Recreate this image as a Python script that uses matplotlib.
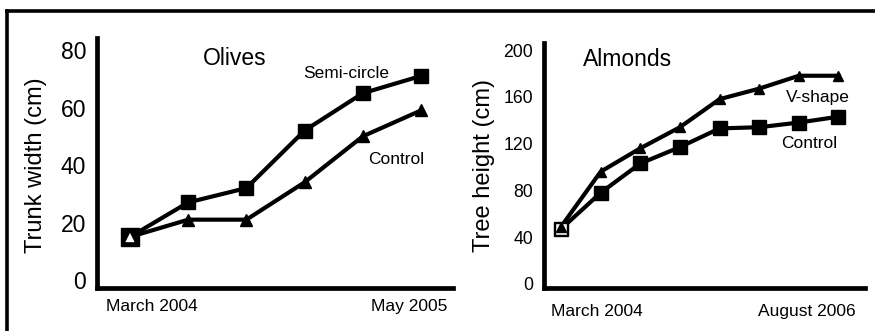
#!/usr/bin/env python3
"""Olive trunk width and almond tree height under two training systems."""

import matplotlib

matplotlib.use("Agg")

import matplotlib.pyplot as plt
from matplotlib.lines import Line2D
from matplotlib.transforms import blended_transform_factory

plt.rcParams["font.family"] = ["Liberation Sans", "DejaVu Sans"]

# Olives: six measurement dates, March 2004 .. May 2005
olive_dates = [0, 1, 2, 3, 4, 5]
olive_semicircle = [15, 27, 32, 52, 65, 71]
olive_control = [15, 21, 21, 34, 50, 59]
olive_yticks = [0, 20, 40, 60, 80]

# Almonds: eight measurement dates, March 2004 .. August 2006
almond_dates = [0, 1, 2, 3, 4, 5, 6, 7]
almond_vshape = [49, 96, 116, 134, 158, 167, 178, 178]
almond_control = [47, 78, 103, 117, 133, 134, 138, 143]
almond_yticks = [0, 40, 80, 120, 160, 200]

W, H = 875, 331
LW = 3.0
AXIS_LW = 3.4


def px_axes(fig, left, right, top, bottom):
    return fig.add_axes([left / W, (H - bottom) / H, (right - left) / W, (bottom - top) / H])


def style_axes(ax, yticks, tick_size, pad):
    for side in ("top", "right"):
        ax.spines[side].set_visible(False)
    for side in ("left", "bottom"):
        ax.spines[side].set_linewidth(AXIS_LW)
        ax.spines[side].set_capstyle("projecting")
    ax.set_xticks([])
    ax.set_yticks(yticks)
    ax.tick_params(axis="y", length=0, pad=pad, labelsize=tick_size)
    ax.patch.set_visible(False)


fig = plt.figure(figsize=(W / 100, H / 100), dpi=100)

# outer frame: top and left rules only
fig.add_artist(Line2D([6.5 / W, 1.0], [1 - 11 / H, 1 - 11 / H], color="black", lw=2.6,
                      transform=fig.transFigure, solid_capstyle="projecting"))
fig.add_artist(Line2D([6.5 / W, 6.5 / W], [1 - 11 / H, 0.0], color="black", lw=2.6,
                      transform=fig.transFigure, solid_capstyle="projecting"))

# --- Olives ---
ax = px_axes(fig, 96.5, 453, 38, 287.5)
style_axes(ax, olive_yticks, 16.5, 7.5)
ax.set_xlim(-0.576, 5.55)
ax.set_ylim(-2.6, 84.2)
ax.plot(olive_dates, olive_semicircle, color="black", lw=LW, marker="s", ms=9.5,
        clip_on=False, zorder=3)
ax.plot(olive_dates[1:], olive_control[1:], color="black", lw=LW, marker="^", ms=8.5,
        clip_on=False, zorder=3)
ax.plot(olive_dates[:2], olive_control[:2], color="black", lw=LW, zorder=3)
ax.plot(olive_dates[0], olive_semicircle[0], marker="s", ms=13, color="black", zorder=4)
ax.plot(olive_dates[0], olive_control[0], marker="^", ms=9, mfc="white", mec="black",
        mew=1.2, zorder=5)
ax.set_ylabel("Trunk width (cm)", fontsize=17, va="center")
ax.yaxis.set_label_coords(-0.17, 0.49)
ax.text(1.80, 77.2, "Olives", fontsize=16.5, ha="center", va="center")
ax.text(3.71, 72, "Semi-circle", fontsize=12.5, ha="center", va="center")
ax.text(4.57, 42.1, "Control", fontsize=12.5, ha="center", va="center")
tr = blended_transform_factory(ax.transData, ax.transAxes)
ax.text(0.38, -0.078, "March 2004", fontsize=12.5, ha="center", va="center", transform=tr)
ax.text(4.80, -0.078, "May 2005", fontsize=12.5, ha="center", va="center", transform=tr)

# --- Almonds ---
ax = px_axes(fig, 544, 865, 43, 287.5)
style_axes(ax, almond_yticks, 12.7, 8)
ax.set_xlim(-0.43, 7.67)
ax.set_ylim(-3.0, 206)
ax.plot(almond_dates, almond_control, color="black", lw=LW, marker="s", ms=9.5,
        clip_on=False, zorder=3)
ax.plot(almond_dates, almond_vshape, color="black", lw=LW, marker="^", ms=6.5,
        clip_on=False, zorder=4)
ax.plot(almond_dates[0], almond_control[0], marker="s", ms=9, mfc="white", mec="black",
        mew=1.0, zorder=5)
ax.plot(almond_dates[0], almond_vshape[0], marker="^", ms=6.5, color="black", zorder=6)
ax.set_ylabel("Tree height (cm)", fontsize=17, va="center")
ax.yaxis.set_label_coords((484 - 544) / (865 - 544), 0.50)
ax.text(1.69, 192.3, "Almonds", fontsize=16.5, ha="center", va="center")
ax.text(6.49, 159, "V-shape", fontsize=12.5, ha="center", va="center")
ax.text(6.25, 120.5, "Control", fontsize=12.5, ha="center", va="center")
tr = blended_transform_factory(ax.transData, ax.transAxes)
ax.text(0.91, -0.10, "March 2004", fontsize=12.5, ha="center", va="center", transform=tr)
ax.text(6.20, -0.10, "August 2006", fontsize=12.5, ha="center", va="center", transform=tr)

fig.savefig("out.png", dpi=100)
plt.close(fig)
